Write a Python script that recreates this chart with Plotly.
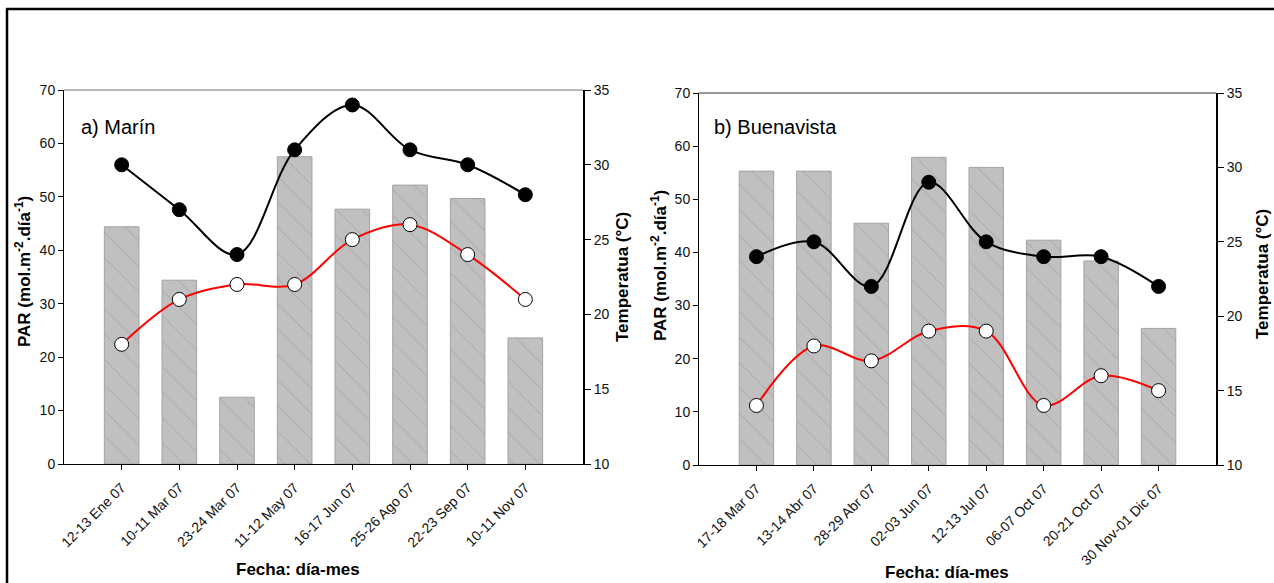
import plotly.graph_objects as go

W, H = 1274, 583

# ---- data ----
cats_a = ["12-13 Ene 07", "10-11 Mar 07", "23-24 Mar 07", "11-12 May 07",
          "16-17 Jun 07", "25-26 Ago 07", "22-23 Sep 07", "10-11 Nov 07"]
par_a = [44.4, 34.4, 12.5, 57.5, 47.7, 52.2, 49.7, 23.6]
tmax_a = [30, 27, 24, 31, 34, 31, 30, 28]
tmin_a = [18, 21, 22, 22, 25, 26, 24, 21]

cats_b = ["17-18 Mar 07", "13-14 Abr 07", "28-29 Abr 07", "02-03 Jun 07",
          "12-13 Jul 07", "06-07 Oct 07", "20-21 Oct 07", "30 Nov-01 Dic 07"]
par_b = [55.3, 55.3, 45.5, 57.9, 56.0, 42.3, 38.4, 25.7]
tmax_b = [24, 25, 22, 29, 25, 24, 24, 22]
tmin_b = [14, 18, 17, 19, 19, 14, 16, 15]

par_ticks = [0, 10, 20, 30, 40, 50, 60, 70]
temp_ticks = [10, 15, 20, 25, 30, 35]

FONT = "Liberation Sans, Arial, sans-serif"


def px_x(v):
    return v / W


def px_y(v):
    return 1 - v / H


fig = go.Figure()


def add_panel(cats, par, tmax, tmin, xa, ya, ya2):
    fig.add_trace(go.Bar(
        x=cats, y=par, xaxis=xa, yaxis=ya, width=0.6,
        marker=dict(color="#c0c0c0",
                    line=dict(color="#a3a3a3", width=1),
                    pattern=dict(shape="\\", fgcolor="#a4a4a4", bgcolor="#c0c0c0",
                                 size=18, solidity=0.05, fillmode="replace")),
        showlegend=False, hoverinfo="skip"))
    fig.add_trace(go.Scatter(
        x=cats, y=tmax, xaxis=xa, yaxis=ya2, mode="lines+markers",
        line=dict(color="black", width=2, shape="spline", smoothing=1),
        marker=dict(color="black", size=14, line=dict(color="black", width=1)),
        showlegend=False))
    fig.add_trace(go.Scatter(
        x=cats, y=tmin, xaxis=xa, yaxis=ya2, mode="lines+markers",
        line=dict(color="#ff0000", width=2, shape="spline", smoothing=1),
        marker=dict(color="white", size=14, line=dict(color="black", width=1)),
        showlegend=False))


add_panel(cats_a, par_a, tmax_a, tmin_a, "x", "y", "y2")
add_panel(cats_b, par_b, tmax_b, tmin_b, "x2", "y3", "y4")

# panel geometry in pixels
L = dict(x0=64, x1=583, y0=90, y1=464)
R = dict(x0=699, x1=1216, y0=93, y1=465)

tickfont = dict(family=FONT, size=14, color="#111")
xtickfont = dict(family=FONT, size=14, color="#111")

xcommon = dict(type="category", range=[-1, 8], showline=True, linecolor="black",
               linewidth=1, ticks="outside", ticklen=5, tickcolor="black",
               tickangle=-45, tickfont=xtickfont, showgrid=False, zeroline=False,
               automargin=False, fixedrange=True, ticklabelstandoff=4)
ycommon = dict(showline=True, linecolor="black", linewidth=1, ticks="outside",
               ticklen=5, tickcolor="black", tickfont=tickfont, showgrid=False,
               zeroline=False, automargin=False, fixedrange=True)

fig.update_layout(
    width=W, height=H,
    margin=dict(l=0, r=0, t=0, b=0),
    paper_bgcolor="white", plot_bgcolor="white",
    bargap=0.4,
    xaxis=dict(xcommon, domain=[px_x(L["x0"]), px_x(L["x1"])], anchor="y"),
    yaxis=dict(ycommon, domain=[px_y(L["y1"]), px_y(L["y0"])], anchor="x",
               range=[0, 70], tickvals=par_ticks),
    yaxis2=dict(ycommon, overlaying="y", side="right", anchor="x",
                range=[10, 35], tickvals=temp_ticks, linewidth=2, ticklen=6),
    xaxis2=dict(xcommon, domain=[px_x(R["x0"]), px_x(R["x1"])], anchor="y3"),
    yaxis3=dict(ycommon, domain=[px_y(R["y1"]), px_y(R["y0"])], anchor="x2",
                range=[0, 70], tickvals=par_ticks),
    yaxis4=dict(ycommon, overlaying="y3", side="right", anchor="x2",
                range=[10, 35], tickvals=temp_ticks, linewidth=2, ticklen=6),
)

shapes = []
# top frame lines of each panel
shapes.append(dict(type="line", xref="paper", yref="paper",
                   x0=px_x(L["x0"]), x1=px_x(L["x1"]), y0=px_y(L["y0"]), y1=px_y(L["y0"]),
                   line=dict(color="#707070", width=1)))
shapes.append(dict(type="line", xref="paper", yref="paper",
                   x0=px_x(R["x0"]), x1=px_x(R["x1"]), y0=px_y(R["y0"]), y1=px_y(R["y0"]),
                   line=dict(color="#303030", width=1)))
# outer border (top and left)
shapes.append(dict(type="line", xref="paper", yref="paper",
                   x0=px_x(6), x1=1, y0=px_y(9), y1=px_y(9),
                   line=dict(color="black", width=2.5)))
shapes.append(dict(type="line", xref="paper", yref="paper",
                   x0=px_x(7), x1=px_x(7), y0=px_y(9), y1=0,
                   line=dict(color="black", width=2.5)))
fig.update_layout(shapes=shapes)

tfont = dict(family=FONT, size=17, color="black")
ann = []


def a(x, y, text, angle=0, font=tfont, xanchor="center"):
    ann.append(dict(x=px_x(x), y=px_y(y), xref="paper", yref="paper", text=text,
                    showarrow=False, textangle=angle, font=font, xanchor=xanchor,
                    yanchor="middle"))


a(23, 272, "<b>PAR (mol.m<sup>-2</sup>.día<sup>-1</sup>)</b>", -90)
a(622, 277, "<b>Temperatua (°C)</b>", -90)
a(298, 569, "<b>Fecha: día-mes</b>")
a(659, 266, "<b>PAR (mol.m<sup>-2</sup>.día<sup>-1</sup>)</b>", -90)
a(1262, 274, "<b>Temperatua (°C)</b>", -90)
a(947, 572, "<b>Fecha: día-mes</b>")
pfont = dict(family=FONT, size=20, color="black")
a(79, 127, "a) Marín", font=pfont, xanchor="left")
a(712, 127, "b) Buenavista", font=pfont, xanchor="left")
fig.update_layout(annotations=ann)

fig.write_html("out.html")
